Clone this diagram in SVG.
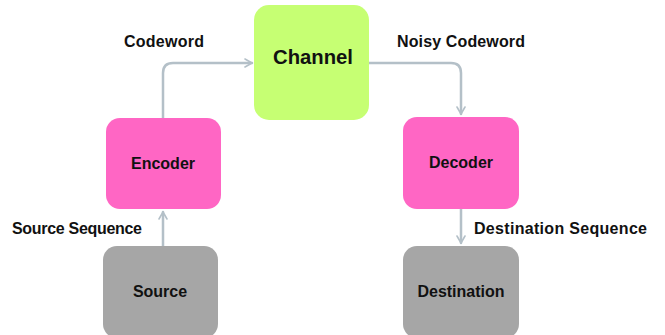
<svg xmlns="http://www.w3.org/2000/svg" width="665" height="335" viewBox="0 0 665 335">
  <style>
    text { font-family: "Liberation Sans", Arial, sans-serif; font-weight: bold; fill: #111; }
    .lbl { font-size: 16px; }
    .node { font-size: 16px; text-anchor: middle; }
    .conn { fill: none; stroke: #b4c0c8; stroke-width: 2.5; stroke-linecap: round; stroke-linejoin: round; }
  </style>
  <defs>
    <marker id="arrow" viewBox="0 0 10 10" refX="8" refY="5" markerWidth="4" markerHeight="4" orient="auto" markerUnits="strokeWidth">
      <path d="M1,1 L8,5 L1,9" fill="none" stroke="#b4c0c8" stroke-width="1.6" stroke-linecap="round" stroke-linejoin="round"/>
    </marker>
  </defs>
  <rect width="665" height="335" fill="#ffffff"/>

  <g id="connectors">
    <path class="conn" d="M163,118 V73 Q163,63 173,63 H252" marker-end="url(#arrow)"/>
    <path class="conn" d="M369,63 H451 Q461,63 461,73 V114" marker-end="url(#arrow)"/>
    <path class="conn" d="M163,246 V212" marker-end="url(#arrow)"/>
    <path class="conn" d="M461,209 V243" marker-end="url(#arrow)"/>
  </g>

  <g id="channel">
    <rect x="254" y="5" width="115" height="115" rx="15" fill="#c6ff73"/>
    <text x="313" y="64" text-anchor="middle" font-size="20.3">Channel</text>
  </g>
  <g id="encoder">
    <rect x="106" y="118" width="115" height="91" rx="14" fill="#ff66c4"/>
    <text class="node" x="163" y="169">Encoder</text>
  </g>
  <g id="decoder">
    <rect x="403" y="117" width="116" height="92" rx="14" fill="#ff66c4"/>
    <text class="node" x="461" y="168">Decoder</text>
  </g>
  <g id="source">
    <rect x="103" y="246" width="115" height="92" rx="14" fill="#a6a6a6"/>
    <text class="node" x="160" y="297">Source</text>
  </g>
  <g id="destination">
    <rect x="403" y="246" width="116" height="92" rx="14" fill="#a6a6a6"/>
    <text class="node" x="461" y="297">Destination</text>
  </g>

  <g id="labels">
    <text class="lbl" x="124" y="47" textLength="80">Codeword</text>
    <text class="lbl" x="397" y="47" textLength="128">Noisy Codeword</text>
    <text class="lbl" x="12" y="234" textLength="130">Source Sequence</text>
    <text class="lbl" x="474" y="234" textLength="173">Destination Sequence</text>
  </g>
</svg>
